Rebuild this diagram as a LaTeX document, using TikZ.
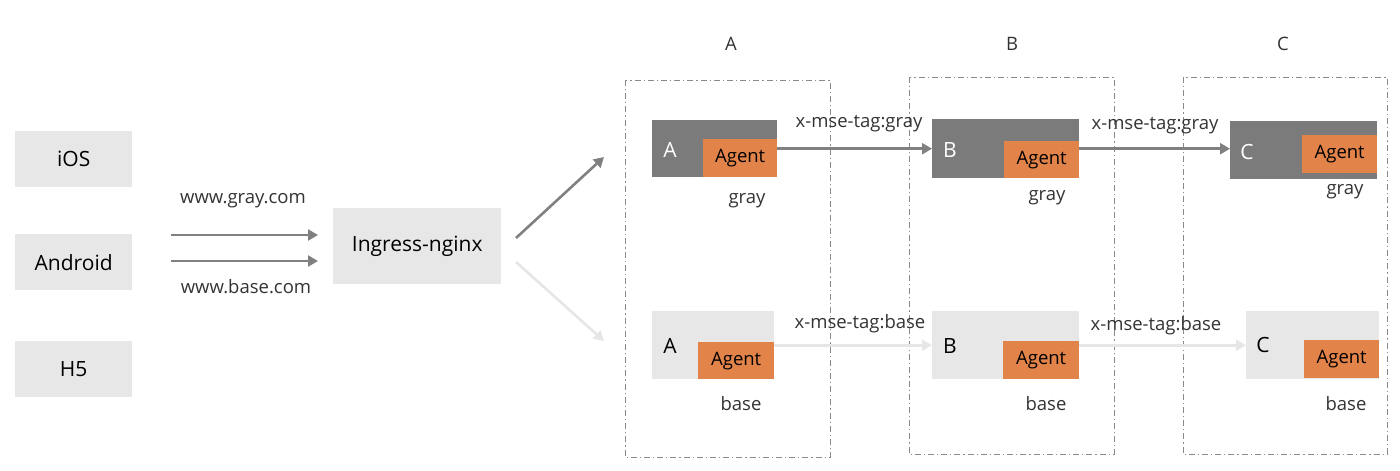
\documentclass[tikz,border=0pt]{standalone}
\usepackage{fontspec}
\setmainfont{Open Sans}
\usetikzlibrary{arrows.meta}
\definecolor{boxlight}{HTML}{E7E7E7}
\definecolor{boxdark}{HTML}{7B7B7B}
\definecolor{agentor}{HTML}{E2834A}
\definecolor{arrdark}{HTML}{808080}
\definecolor{arrlight}{HTML}{E6E6E6}
\definecolor{txt}{HTML}{333333}
\definecolor{dashc}{HTML}{8A8A8A}
\tikzset{
  lbox/.style={fill=boxlight, draw=none, anchor=north west, inner sep=0pt},
  dbox/.style={fill=boxdark, draw=none, anchor=north west, inner sep=0pt},
  agentbox/.style={fill=agentor, draw=none, anchor=north west, inner sep=0pt, font=\fontsize{18.5}{21}\selectfont, text=black},
  lbl/.style={font=\fontsize{18.5}{21}\selectfont, text=txt, inner sep=0pt},
  bigtxt/.style={font=\fontsize{21}{24}\selectfont, text=black},
  zone/.style={draw=dashc, line width=1pt, dash pattern=on 6pt off 3pt on 1.2pt off 3pt},
  darr/.style={draw=arrdark, line width=2.6pt, -{Triangle[length=10pt,width=11pt]}},
  larr/.style={draw=arrlight, line width=2.6pt, -{Triangle[length=10pt,width=11pt]}},
}
\begin{document}
\begin{tikzpicture}[x=1pt,y=-1pt]
\useasboundingbox (0,0) rectangle (1400,471);
% left clients
\node[lbox, minimum width=117pt, minimum height=56pt] (ios) at (15,131) {};
\node[bigtxt] at (ios.center) {iOS};
\node[lbox, minimum width=117pt, minimum height=56pt] (android) at (15,234) {};
\node[bigtxt] at (android.center) {Android};
\node[lbox, minimum width=117pt, minimum height=56pt] (h5) at (15,341) {};
\node[bigtxt] at (h5.center) {H5};
% ingress
\node[lbox, minimum width=168pt, minimum height=76pt] (ing) at (333,208) {};
\node[bigtxt] at (ing.center) {Ingress-nginx};
% incoming arrows
\coordinate (in1s) at (171,235);
\coordinate (in1e) at (318,235);
\coordinate (in2s) at (171,261);
\coordinate (in2e) at (318,261);
\draw[darr] (in1s) -- (in1e);
\draw[darr] (in2s) -- (in2e);
\node[lbl] (wg) at (243,201) {www.gray.com};
\node[lbl] (wb) at (246,287) {www.base.com};
% outgoing diagonal arrows
\coordinate (o1s) at (516,238);
\coordinate (o1e) at (604,157);
\coordinate (o2s) at (516,262);
\coordinate (o2e) at (604,341);
\draw[darr] (o1s) -- (o1e);
\draw[larr] (o2s) -- (o2e);
% zones
\draw[zone] (625,80) rectangle (830,457);
\draw[zone] (909,77) rectangle (1114,454);
\draw[zone] (1183,77) rectangle (1387,454);
\node[lbl] (ca) at (731,44) {A};
\node[lbl] (cb) at (1012,44) {B};
\node[lbl] (cc) at (1283,44) {C};
% gray services
\node[dbox, minimum width=125pt, minimum height=57pt] (gA) at (652,120) {};
\node[agentbox, minimum width=74pt, minimum height=38pt] (agA) at (703,139) {Agent};
\node[bigtxt, text=white] at (670,150) {A};
\node[lbl] at (747,201) {gray};
\node[dbox, minimum width=147pt, minimum height=59pt] (gB) at (932,119) {};
\node[agentbox, minimum width=75pt, minimum height=37pt] (agB) at (1004,141) {Agent};
\node[bigtxt, text=white] at (950,150) {B};
\node[lbl] at (1047,198) {gray};
\node[dbox, minimum width=147pt, minimum height=58pt] (gC) at (1230,121) {};
\node[agentbox, minimum width=75pt, minimum height=38pt] (agC) at (1302,135) {Agent};
\node[bigtxt, text=white] at (1247,152) {C};
\node[lbl] at (1345,192) {gray};
% base services
\node[lbox, minimum width=122pt, minimum height=68pt] (bA) at (652,311) {};
\node[agentbox, minimum width=76pt, minimum height=37pt] (abA) at (698,342) {Agent};
\node[bigtxt] at (670,346) {A};
\node[lbl] at (741,404) {base};
\node[lbox, minimum width=147pt, minimum height=68pt] (bB) at (932,311) {};
\node[agentbox, minimum width=76pt, minimum height=38pt] (abB) at (1003,341) {Agent};
\node[bigtxt] at (950,346) {B};
\node[lbl] at (1046,404) {base};
\node[lbox, minimum width=133pt, minimum height=68pt] (bC) at (1246,311) {};
\node[agentbox, minimum width=75pt, minimum height=38pt] (abC) at (1304,340) {Agent};
\node[bigtxt] at (1263,345) {C};
\node[lbl] at (1346,404) {base};
% service arrows
\draw[darr] (gA.east) -- (gB.west);
\draw[darr] (gB.east) -- (gB.east -| gC.west);
\draw[larr] (bA.east) -- (bB.west);
\draw[larr] (bB.east) -- (bC.west);
\node[lbl] (t1) at (859,124) {x-mse-tag:gray};
\node[lbl] (t2) at (1155,126) {x-mse-tag:gray};
\node[lbl] (t3) at (860,324) {x-mse-tag:base};
\node[lbl] (t4) at (1156,326) {x-mse-tag:base};
\end{tikzpicture}
\end{document}
